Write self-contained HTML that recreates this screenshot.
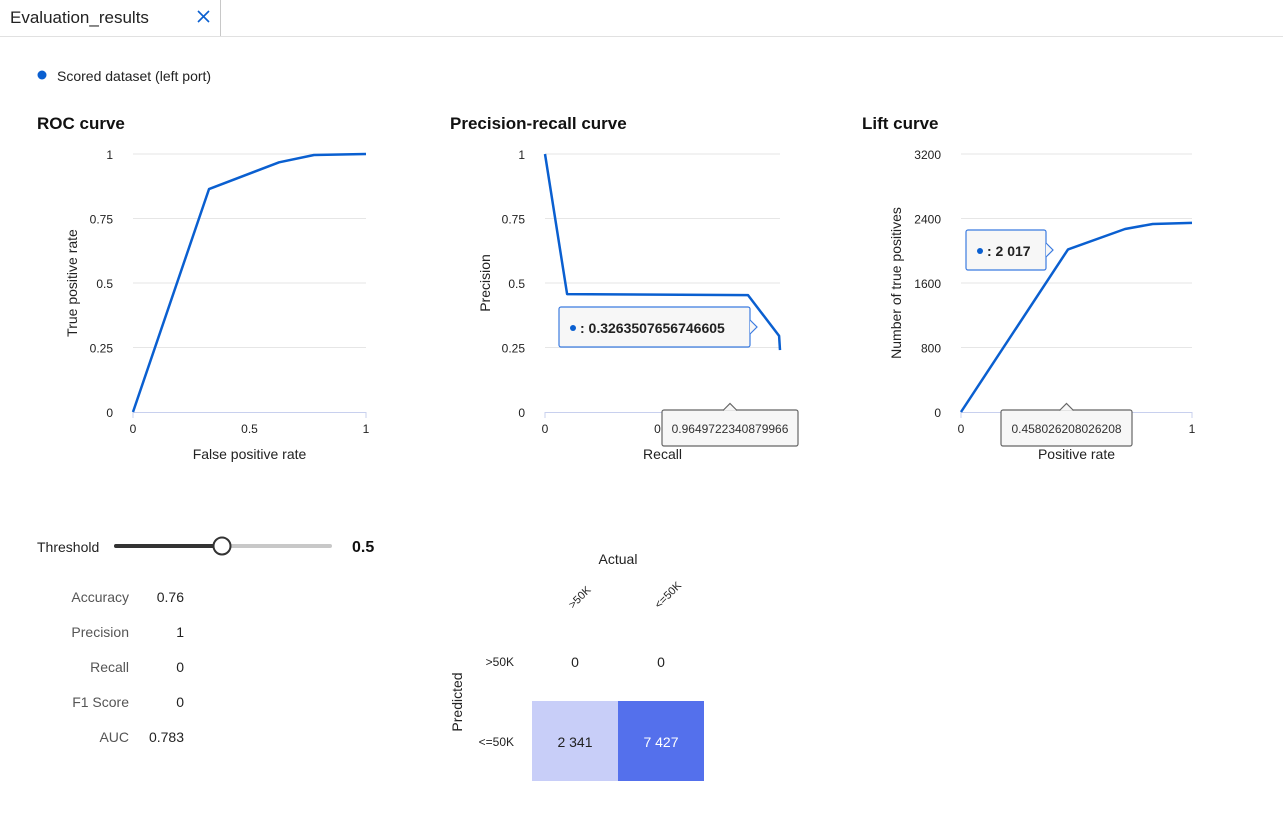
<!DOCTYPE html>
<html><head><meta charset="utf-8"><style>
body{margin:0;background:#fff;font-family:"Liberation Sans",sans-serif;}
svg{display:block}
</style></head><body>
<svg id="s" width="1283" height="828" xmlns="http://www.w3.org/2000/svg" font-family="Liberation Sans, sans-serif">
<g>
<rect x="0" y="0" width="220" height="36" fill="#fff"/>
<line x1="220.5" y1="0" x2="220.5" y2="36" stroke="#c8c8c8"/>
<line x1="0" y1="36.5" x2="1283" y2="36.5" stroke="#e1e1e1"/>
<text x="10" y="23" font-size="17" fill="#222">Evaluation_results</text>
<path d="M198 11 L209 22 M209 11 L198 22" stroke="#0a5fd0" stroke-width="1.6"/>
</g>
<g>
<circle cx="42" cy="75" r="4.5" fill="#0a5fd0"/>
<text x="57" y="81" font-size="14" fill="#222">Scored dataset (left port)</text>
</g>
<text x="37" y="129" font-size="17" font-weight="bold" fill="#111">ROC curve</text>
<text x="450" y="129" font-size="17" font-weight="bold" fill="#111">Precision-recall curve</text>
<text x="862" y="129" font-size="17" font-weight="bold" fill="#111">Lift curve</text>
<g id="charts"></g>
<g>
<text x="37" y="552" font-size="14" fill="#222">Threshold</text>
<line x1="116" y1="546" x2="330" y2="546" stroke="#c8c8c8" stroke-width="4" stroke-linecap="round"/>
<line x1="116" y1="546" x2="222" y2="546" stroke="#333" stroke-width="4" stroke-linecap="round"/>
<circle cx="222" cy="546" r="8.5" fill="#fff" stroke="#333" stroke-width="2"/>
<text x="352" y="552" font-size="16" font-weight="bold" fill="#111">0.5</text>
</g>
<g font-size="14">
<text x="129" y="602" text-anchor="end" fill="#555">Accuracy</text><text x="184" y="602" text-anchor="end" fill="#222">0.76</text>
<text x="129" y="637" text-anchor="end" fill="#555">Precision</text><text x="184" y="637" text-anchor="end" fill="#222">1</text>
<text x="129" y="672" text-anchor="end" fill="#555">Recall</text><text x="184" y="672" text-anchor="end" fill="#222">0</text>
<text x="129" y="707" text-anchor="end" fill="#555">F1 Score</text><text x="184" y="707" text-anchor="end" fill="#222">0</text>
<text x="129" y="742" text-anchor="end" fill="#555">AUC</text><text x="184" y="742" text-anchor="end" fill="#222">0.783</text>
</g>
<g id="cm"></g>
</svg>
<script>
const NS="http://www.w3.org/2000/svg";
function el(p,t,a,txt){const e=document.createElementNS(NS,t);for(const k in a)e.setAttribute(k,a[k]);if(txt!==undefined)e.textContent=txt;p.appendChild(e);return e;}
// ROC data
const rocX=[0,0.326,0.627,0.777,1];
const rocY=[0,0.864,0.968,0.996,1];
const rocTicksY=[0,0.25,0.5,0.75,1];
const rocTicksX=[0,0.5,1];
// PR data
const prX=[0,0.094,0.864,0.996,1];
const prY=[1,0.457,0.453,0.295,0.24];
const prTicksY=[0,0.25,0.5,0.75,1];
const prTicksX=[0,0.5];
// Lift data
const liftX=[0,0.463,0.71,0.83,1];
const liftY=[0,2017,2270,2332,2345];
const liftTicksY=[0,800,1600,2400,3200];
const liftTicksX=[0,1];
const cats=[">50K","<=50K"];
const cmVals=[[0,0],[2341,7427]];
const g=document.getElementById('charts');
function chart(name,x0,x1,ymax,xs,ys,tx,ty,xlab,ylab,ylx){
  const y0=412,y1=154;
  const sx=v=>x0+(x1-x0)*v, sy=v=>y0-(y0-y1)*v/ymax;
  const c=el(g,'g',{});
  
  
  ty.forEach(t=>{const yy=sy(t);
    if(t>0){const l=el(c,'line',{x1:x0,x2:x1,y1:yy,y2:yy,stroke:'#e6e6e6'});}
    const tt=el(c,'text',{x:x0-20,y:yy+5,'font-size':12,'text-anchor':'end',fill:'#222'},String(t));
    });
  el(c,'path',{d:`M${x0} 418 V412.5 H${x1} V418`,fill:'none',stroke:'#c8d0ee'});
  tx.forEach(t=>{const tt=el(c,'text',{x:sx(t),y:433,'font-size':12,'text-anchor':'middle',fill:'#222'},String(t));
    });
  const xt=el(c,'text',{x:(x0+x1)/2,y:459,'font-size':14,'text-anchor':'middle',fill:'#222'},xlab);
  
  const yt=el(c,'text',{x:0,y:0,'font-size':14,'text-anchor':'middle',fill:'#222',transform:`translate(${ylx},283) rotate(-90)`},ylab);
  
  const d=xs.map((v,i)=>(i?'L':'M')+sx(v).toFixed(1)+' '+sy(ys[i]).toFixed(1)).join(' ');
  const p=el(c,'path',{d,fill:'none',stroke:'#0a5fd0','stroke-width':2.5,'stroke-linejoin':'round'});
  
  return c;
}
chart('roc-chart',133,366,1,rocX,rocY,rocTicksX,rocTicksY,'False positive rate','True positive rate',77);
const pr=chart('pr-chart',545,780,1,prX,prY,prTicksX,prTicksY,'Recall','Precision',490);
const lift=chart('lift-chart',961,1192,3200,liftX,liftY,liftTicksX,liftTicksY,'Positive rate','Number of true positives',901);
function tip(par,x,y,w,h,content,bold,name,arrow){
  const t=el(par,'g',{});
  
  el(t,'rect',{x,y,width:w,height:h,fill:'#f7f7f7',stroke:bold?'#3b7be0':'#666','stroke-width':1.2,rx:2});
  if(arrow==='right')el(t,'path',{d:`M${x+w} ${y+h/2-7} l7 7 l-7 7`,fill:'#f7f7f7',stroke:'#3b7be0','stroke-width':1.2});
  if(arrow==='up'){const ax=x+w/2;el(t,'path',{d:`M${ax-7} ${y+0.5} l7 -7 l7 7`,fill:'#f7f7f7',stroke:'#666','stroke-width':1.2});}
  if(bold){el(t,'circle',{cx:x+14,cy:y+h/2+1,r:3,fill:'#0a5fd0'});
    el(t,'text',{x:x+21,y:y+h/2+6,'font-size':14,'font-weight':'bold',fill:'#222'},content);}
  else el(t,'text',{x:x+w/2,y:y+h/2+5,'font-size':12,'text-anchor':'middle',fill:'#333'},content);
}
tip(pr,559,307,191,40,': 0.3263507656746605',true,'pr-tooltip','right');
tip(pr,662,410,136,36,'0.9649722340879966',false,'pr-x-tooltip','up');
tip(lift,966,230,80,40,': 2 017',true,'lift-tooltip','right');
tip(lift,1001,410,131,36,'0.458026208026208',false,'lift-x-tooltip','up');
// confusion matrix
const cm=document.getElementById('cm');
const cx0=532,cw=86,ry0=621,rh=80;
const colors=['#c8cef8','#5470ec'];
el(cm,'text',{x:618,y:564,'font-size':14,'text-anchor':'middle',fill:'#222'},'Actual');
el(cm,'line',{x1:532,x2:704,y1:621.5,y2:621.5,stroke:'#c8d0ee'});
el(cm,'text',{x:0,y:0,'font-size':14,'text-anchor':'middle',fill:'#222',transform:'translate(462,702) rotate(-90)'},'Predicted');
const mx=Math.max(...cmVals.flat());
cats.forEach((c,j)=>{
  const t=el(cm,'text',{x:0,y:0,'font-size':11,fill:'#222',transform:`translate(${cx0+cw*j+cw/2-2},${609}) rotate(-45)`},c);
  
});
cats.forEach((c,i)=>{
  const t=el(cm,'text',{x:514,y:ry0+rh*i+rh/2+5,'font-size':12,'text-anchor':'end',fill:'#222'},c);
  
  cmVals[i].forEach((v,j)=>{
    const fill=v===0?'#fff':(v/mx>0.6?colors[1]:colors[0]);
    const r=el(cm,'rect',{x:cx0+cw*j,y:ry0+rh*i,width:cw,height:rh,fill});
    
    const tt=el(cm,'text',{x:cx0+cw*j+cw/2,y:ry0+rh*i+rh/2+6,'font-size':14,'text-anchor':'middle',fill:fill===colors[1]?'#fff':'#222'},v.toLocaleString('fr-FR').replace(/\u202f|\u00a0/g,' '));
    
  });
});
</script>
</body></html>
